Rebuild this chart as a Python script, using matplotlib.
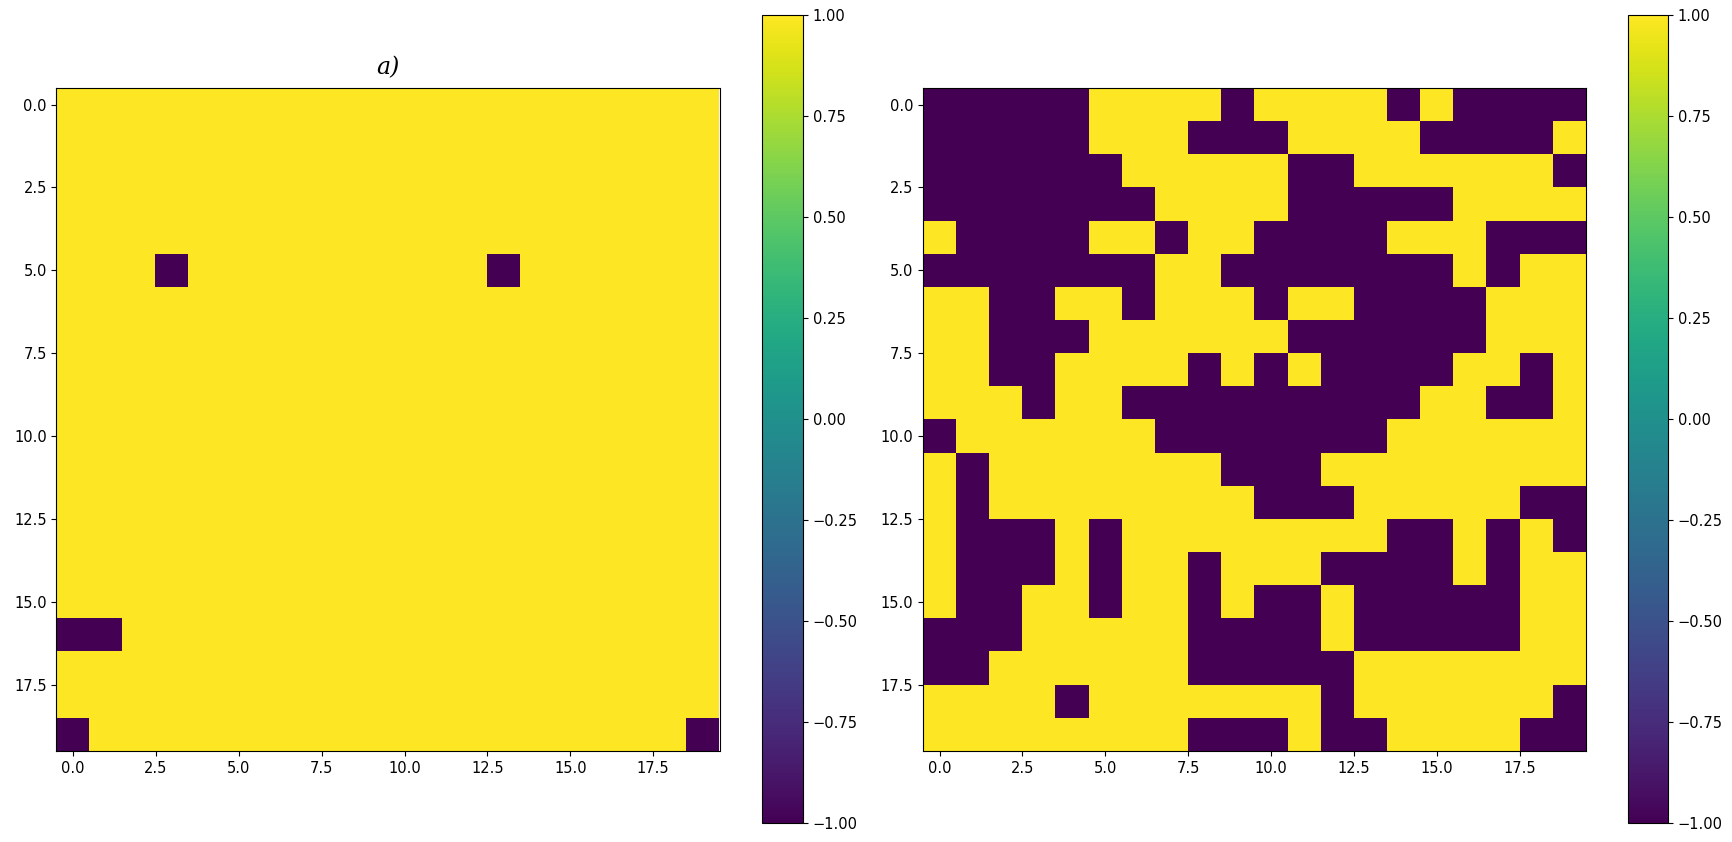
import numpy as np
import matplotlib
matplotlib.use('Agg')
import matplotlib.pyplot as plt

# ============================================================
# 数据：20x20 自旋格点 (+1 黄, -1 紫)
# ============================================================

N = 20

# a) 几乎全部为 +1，少数 -1 的格点 (行, 列)
spins_a_flipped = [(5, 3), (5, 13), (16, 0), (16, 1), (19, 0), (19, 19)]

# b) 右图，逐行读取：'+' = +1, '-' = -1
spins_b_rows = [
    "-----++++-++++-+----",
    "-----+++---++++----+",
    "------+++++--++++++-",
    "-------++++-----++++",
    "+----++-++----+++---",
    "-------++-------+-++",
    "++--++-+++-++----+++",
    "++---++++++------+++",
    "++--++++-+-+----++-+",
    "+++-++---------++--+",
    "-++++++-------++++++",
    "+-+++++++---++++++++",
    "+-++++++++---+++++--",
    "+---+-++++++++--+-+-",
    "+---+-++-+++----+-++",
    "+--++-++-+--+-----++",
    "---+++++----+-----++",
    "--++++++-----+++++++",
    "++++-+++++++-++++++-",
    "++++++++---+--++++--",
]

cbar_ticks = [-1.00, -0.75, -0.50, -0.25, 0.00, 0.25, 0.50, 0.75, 1.00]

# ============================================================
# 构造矩阵
# ============================================================

lattice_a = np.ones((N, N))
for r, c in spins_a_flipped:
    lattice_a[r, c] = -1

lattice_b = np.array([[1 if ch == '+' else -1 for ch in row] for row in spins_b_rows], dtype=float)

# ============================================================
# 画图
# ============================================================

W, H = 1733, 842
fig = plt.figure(figsize=(W / 100, H / 100), dpi=100)

def box(x0, y0, x1, y1):
    return [x0 / W, 1 - y1 / H, (x1 - x0) / W, (y1 - y0) / H]

ax1 = fig.add_axes(box(55, 88, 721, 751))
cax1 = fig.add_axes(box(762, 15, 803, 823))
ax2 = fig.add_axes(box(923, 88, 1586, 751))
cax2 = fig.add_axes(box(1628, 15, 1668, 823))

for ax, cax, lat in [(ax1, cax1, lattice_a), (ax2, cax2, lattice_b)]:
    im = ax.imshow(lat, cmap='viridis', vmin=-1, vmax=1, interpolation='nearest')
    ax.tick_params(labelsize=10.5)
    cb = fig.colorbar(im, cax=cax)
    cb.set_ticks(cbar_ticks)
    cb.ax.set_yticklabels([f'{t:.2f}'.replace('-', '\u2212') for t in cbar_ticks])
    cb.ax.tick_params(labelsize=10.5)

ax1.set_title('a)', fontsize=17, family='DejaVu Serif', style='italic', pad=10)

plt.savefig('out.png', dpi=100)
